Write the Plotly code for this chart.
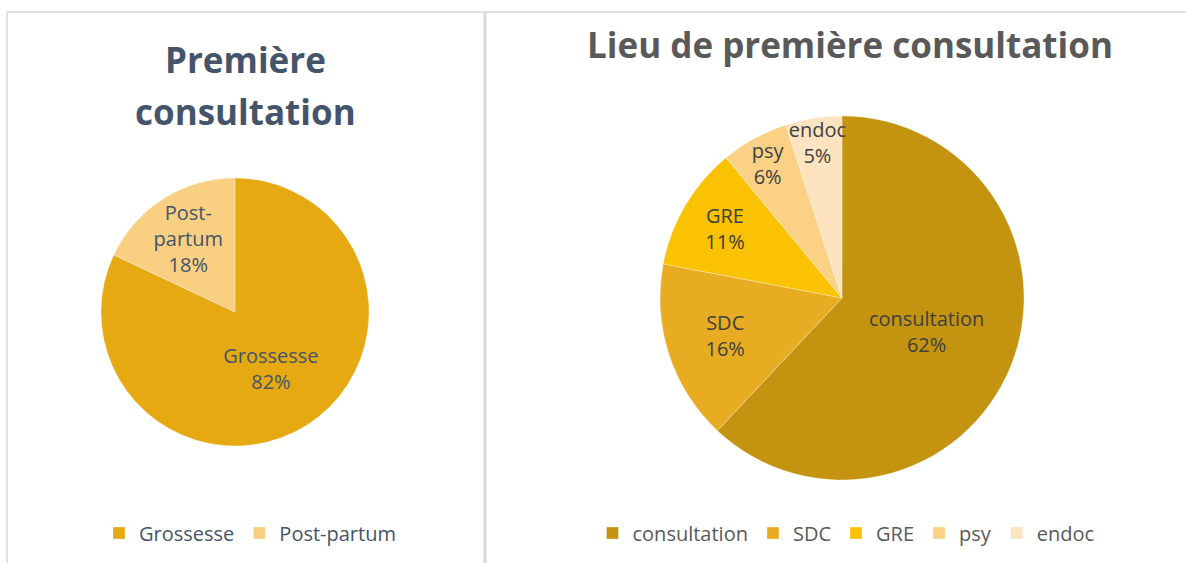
import plotly.graph_objects as go

# Left chart data
left_labels = ["Grossesse", "Post-partum"]
left_display = ["Grossesse", "Post-<br>partum"]
left_values = [82, 18]
left_colors = ["#E6A912", "#F9CF82"]

# Right chart data
right_labels = ["consultation", "SDC", "GRE", "psy", "endoc"]
right_values = [62, 16, 11, 6, 5]
right_colors = ["#C4930F", "#E8AC22", "#FAC200", "#FBD186", "#FDE3BF"]

W, H = 1186, 563
FONT = "Open Sans"

def px_x(v):
    return v / W

def px_y(v):
    return 1 - v / H

fig = go.Figure()

fig.add_trace(go.Pie(
    labels=left_labels, values=left_values, customdata=left_display,
    marker=dict(colors=left_colors, line=dict(color="rgba(255,255,255,0.6)", width=0.5)),
    sort=False, direction="clockwise", rotation=0,
    texttemplate="%{customdata}<br>%{percent:.0%}",
    textposition="inside", insidetextorientation="horizontal",
    textfont=dict(family=FONT, size=20, color="#44546A"),
    domain=dict(x=[px_x(101), px_x(369)], y=[px_y(446), px_y(178)]),
    legend="legend", hoverinfo="label+percent",
))

fig.add_trace(go.Pie(
    labels=right_labels, values=right_values,
    marker=dict(colors=right_colors, line=dict(color="rgba(255,255,255,0.6)", width=0.5)),
    sort=False, direction="clockwise", rotation=0,
    texttemplate="%{label}<br>%{percent:.0%}",
    textposition="inside", insidetextorientation="horizontal",
    textfont=dict(family=FONT, size=20, color="#404040"),
    domain=dict(x=[px_x(660), px_x(1024)], y=[px_y(480), px_y(116)]),
    legend="legend2", hoverinfo="label+percent",
))

shapes = [
    dict(type="line", xref="paper", yref="paper", x0=px_x(7), x1=1, y0=px_y(12), y1=px_y(12),
         line=dict(color="#D9D9D9", width=1.5)),
    dict(type="line", xref="paper", yref="paper", x0=px_x(7), x1=px_x(7), y0=0, y1=px_y(12),
         line=dict(color="#D9D9D9", width=1.5)),
    dict(type="line", xref="paper", yref="paper", x0=px_x(485), x1=px_x(485), y0=0, y1=px_y(12),
         line=dict(color="#D9D9D9", width=3)),
]

annotations = [
    dict(text="<b>Première</b>", x=px_x(245), y=px_y(60), xref="paper", yref="paper",
         showarrow=False, xanchor="center", yanchor="middle",
         font=dict(family=FONT, size=35, color="#44546A")),
    dict(text="<b>consultation</b>", x=px_x(245), y=px_y(111), xref="paper", yref="paper",
         showarrow=False, xanchor="center", yanchor="middle",
         font=dict(family=FONT, size=35, color="#44546A")),
    dict(text="<b>Lieu de première consultation</b>", x=px_x(850), y=px_y(45), xref="paper", yref="paper",
         showarrow=False, xanchor="center", yanchor="middle",
         font=dict(family=FONT, size=35, color="#595959")),
]

fig.update_layout(
    width=W, height=H,
    margin=dict(l=0, r=0, t=0, b=0),
    paper_bgcolor="white", plot_bgcolor="white",
    shapes=shapes, annotations=annotations,
    uniformtext=dict(minsize=20, mode="show"),
    legend=dict(orientation="h", x=px_x(250), y=px_y(533), xanchor="center", yanchor="middle",
                font=dict(family=FONT, size=20, color="#44546A"), traceorder="normal",
                itemwidth=30),
    legend2=dict(orientation="h", x=px_x(846), y=px_y(533), xanchor="center", yanchor="middle",
                 font=dict(family=FONT, size=20, color="#595959"), traceorder="normal",
                 itemwidth=30),
)

fig.write_html("out.html", config={"displayModeBar": False},
               post_script="document.body.style.margin='0';")
